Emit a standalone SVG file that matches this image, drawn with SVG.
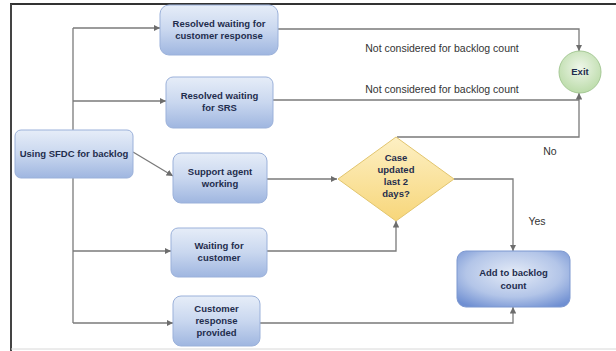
<svg xmlns="http://www.w3.org/2000/svg" width="616" height="351" viewBox="0 0 616 351">
<defs>
<linearGradient id="gBox" x1="0" y1="0" x2="0" y2="1">
<stop offset="0" stop-color="#e6edf8"/>
<stop offset="0.5" stop-color="#c9d7ef"/>
<stop offset="1" stop-color="#9fb6e0"/>
</linearGradient>
<radialGradient id="gAdd" cx="0.5" cy="0.4" r="0.7">
<stop offset="0" stop-color="#e4ebf7"/>
<stop offset="0.6" stop-color="#b3c5e8"/>
<stop offset="1" stop-color="#6f8fd2"/>
</radialGradient>
<linearGradient id="gDia" x1="0" y1="0" x2="0" y2="1">
<stop offset="0" stop-color="#fdf0c4"/>
<stop offset="1" stop-color="#f7d67a"/>
</linearGradient>
<radialGradient id="gExit" cx="0.5" cy="0.4" r="0.6">
<stop offset="0" stop-color="#eef6e9"/>
<stop offset="1" stop-color="#bcdcaa"/>
</radialGradient>
<marker id="arr" viewBox="0 0 6 6" refX="6" refY="3" markerWidth="5" markerHeight="5" orient="auto">
<path d="M0,0 L6,3 L0,6 z" fill="#6d6d6d"/>
</marker>
<style>
.box{fill:url(#gBox);stroke:#9bb1da;stroke-width:1}
.t{font-family:"Liberation Sans",Arial,sans-serif;font-size:9.5px;fill:#1f2d4d;text-anchor:middle;font-weight:bold}
.lbl{font-family:"Liberation Sans",Arial,sans-serif;font-size:10.5px;fill:#333;text-anchor:middle}
.c{fill:none;stroke:#7a7a7a;stroke-width:1.3}
.ca{fill:none;stroke:#7a7a7a;stroke-width:1.3;marker-end:url(#arr)}
</style>
</defs>
<rect x="0" y="0" width="616" height="351" fill="#ffffff"/>
<g id="frame">
<line x1="10" y1="4" x2="616" y2="4" stroke="#333" stroke-width="2"/>
<line x1="11" y1="4" x2="11" y2="351" stroke="#444" stroke-width="2"/>
<line x1="11" y1="349" x2="616" y2="349" stroke="#d8d8d8" stroke-width="1"/>
</g>
<g id="connectors">
<polyline class="c" points="73,28 73,323"/>
<polyline class="ca" points="73,28 160,28"/>
<polyline class="ca" points="73,101 166,101"/>
<polyline class="ca" points="133,152 173,176"/>
<polyline class="ca" points="73,251 171,251"/>
<polyline class="ca" points="73,323 173,323"/>
<polyline class="ca" points="278,29 579,29 579,51"/>
<polyline class="c" points="273,100 579,100"/>
<polyline class="ca" points="397,137 579,137 579,93"/>
<polyline class="ca" points="267,179 337,179"/>
<polyline class="ca" points="267,251 396,251 396,221"/>
<polyline class="ca" points="454,179 513,179 513,251"/>
<polyline class="ca" points="260,323 513,323 513,307"/>
<text class="lbl" x="442" y="52">Not considered for backlog count</text>
<text class="lbl" x="442" y="93">Not considered for backlog count</text>
<text class="lbl" x="550" y="155">No</text>
<text class="lbl" x="537" y="225">Yes</text>
</g>
<g id="n_resolved_cust">
<rect class="box" x="160" y="5" width="118" height="50" rx="9"/>
<text class="t" x="219" y="27">Resolved waiting for</text>
<text class="t" x="219" y="39">customer response</text>
</g>
<g id="n_resolved_srs">
<rect class="box" x="166" y="77" width="107" height="51" rx="7"/>
<text class="t" x="219.5" y="99">Resolved waiting</text>
<text class="t" x="219.5" y="111">for SRS</text>
</g>
<g id="n_sfdc">
<rect class="box" x="15" y="130" width="118" height="48" rx="6"/>
<text class="t" x="74" y="157">Using SFDC for backlog</text>
</g>
<g id="n_support">
<rect class="box" x="173" y="153" width="94" height="50" rx="8"/>
<text class="t" x="220" y="175">Support agent</text>
<text class="t" x="220" y="187">working</text>
</g>
<g id="n_waiting">
<rect class="box" x="171" y="228" width="96" height="49" rx="7"/>
<text class="t" x="219" y="249">Waiting for</text>
<text class="t" x="219" y="261">customer</text>
</g>
<g id="n_custresp">
<rect class="box" x="173" y="296" width="87" height="50" rx="8"/>
<text class="t" x="216.5" y="312">Customer</text>
<text class="t" x="216.5" y="324">response</text>
<text class="t" x="216.5" y="336">provided</text>
</g>
<g id="n_decision">
<polygon points="396,137 454,179 396,221 338,179" fill="url(#gDia)" stroke="#e2c56e" stroke-width="1"/>
<text class="t" x="396" y="161">Case</text>
<text class="t" x="396" y="173">updated</text>
<text class="t" x="396" y="185">last 2</text>
<text class="t" x="396" y="197">days?</text>
</g>
<g id="n_exit">
<circle cx="580" cy="72" r="21" fill="url(#gExit)" stroke="#a6c996" stroke-width="1"/>
<text class="t" x="580" y="75">Exit</text>
</g>
<g id="n_add">
<rect x="457" y="251" width="113" height="56" rx="9" fill="url(#gAdd)" stroke="#7d98d0" stroke-width="1"/>
<text class="t" x="513.5" y="276">Add to backlog</text>
<text class="t" x="513.5" y="289">count</text>
</g>
</svg>
